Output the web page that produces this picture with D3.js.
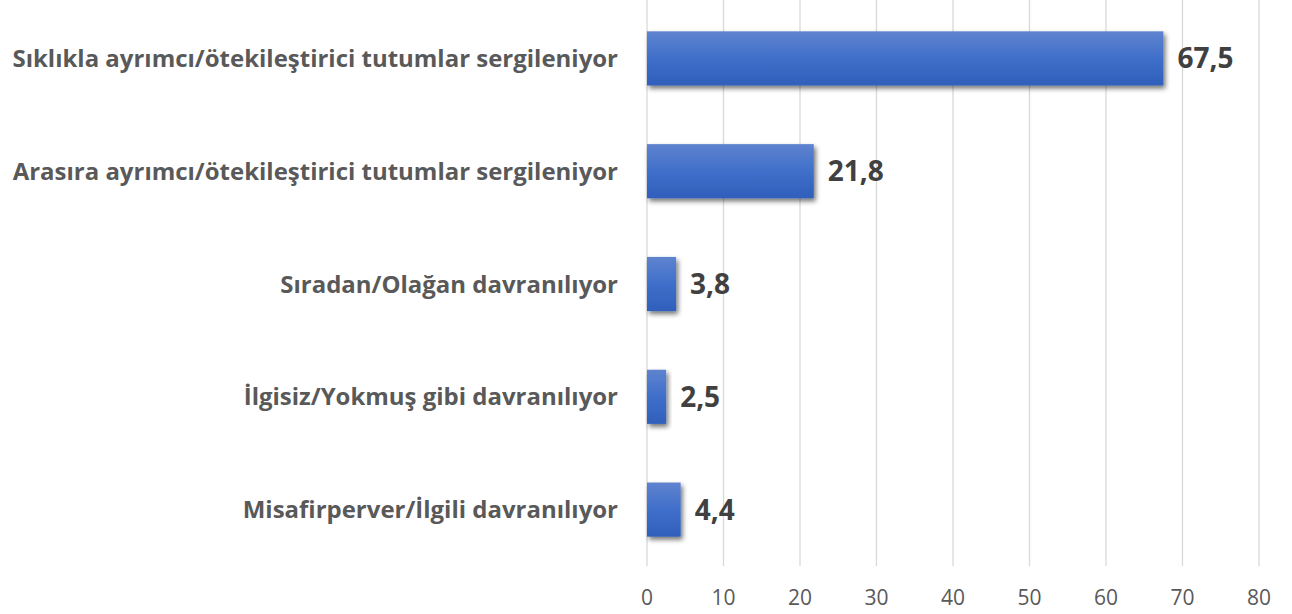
<!DOCTYPE html>
<html>
<head>
<meta charset="utf-8">
<script src="https://cdn.jsdelivr.net/npm/d3@7"></script>
<style>
  body { margin: 0; background: #fff; }
  svg { display: block; }
</style>
</head>
<body>
<div class="chart"></div>
<script>
// Data
var categories = [
  "Sıklıkla ayrımcı/ötekileştirici tutumlar sergileniyor",
  "Arasıra ayrımcı/ötekileştirici tutumlar sergileniyor",
  "Sıradan/Olağan davranılıyor",
  "İlgisiz/Yokmuş gibi davranılıyor",
  "Misafirperver/İlgili davranılıyor"
];
var values = [67.5, 21.8, 3.8, 2.5, 4.4];
var valueLabels = ["67,5", "21,8", "3,8", "2,5", "4,4"];
var ticks = [0, 10, 20, 30, 40, 50, 60, 70, 80];

// Configuration
var width = 1292;
var height = 614;
var margin = {top: 2, right: 33, bottom: 48, left: 647};
var font = "'Open Sans', Lato, sans-serif";

var svg = d3.select(".chart").append("svg")
    .attr("width", width)
    .attr("height", height);

var defs = svg.append("defs");

// bar gradient
var grad = defs.append("linearGradient")
    .attr("id", "barGrad")
    .attr("x1", 0).attr("y1", 0).attr("x2", 0).attr("y2", 1);
grad.append("stop").attr("offset", "0%").attr("stop-color", "#5f83cf");
grad.append("stop").attr("offset", "50%").attr("stop-color", "#3f6fca");
grad.append("stop").attr("offset", "100%").attr("stop-color", "#2f5fbb");

// shadow
var shadow = defs.append("filter")
    .attr("id", "shadow")
    .attr("x", "-20%").attr("y", "-20%")
    .attr("width", "150%").attr("height", "160%");
shadow.append("feGaussianBlur")
    .attr("in", "SourceAlpha")
    .attr("stdDeviation", 2.5)
    .attr("result", "blur");
shadow.append("feOffset")
    .attr("dx", 2).attr("dy", 3)
    .attr("result", "off");
shadow.append("feComponentTransfer")
    .append("feFuncA").attr("type", "linear").attr("slope", 0.55);
var merge = shadow.append("feMerge");
merge.append("feMergeNode");
merge.append("feMergeNode").attr("in", "SourceGraphic");

var x = d3.scaleLinear()
    .domain([0, 80])
    .range([margin.left, width - margin.right]);

var y = d3.scaleBand()
    .domain(categories)
    .range([margin.top, height - margin.bottom])
    .paddingInner(0.52)
    .paddingOuter(0.26);

// gridlines
svg.append("g")
    .selectAll("line")
    .data(ticks)
    .enter().append("line")
    .attr("x1", d => x(d))
    .attr("x2", d => x(d))
    .attr("y1", 0)
    .attr("y2", height - margin.bottom)
    .attr("stroke", "#d9d9d9")
    .attr("stroke-width", 1.3);

// tick labels
svg.append("g")
    .selectAll("text")
    .data(ticks)
    .enter().append("text")
    .attr("x", d => x(d))
    .attr("y", 605)
    .attr("text-anchor", "middle")
    .style("font-family", font)
    .style("font-size", "21px")
    .style("fill", "#595959")
    .text(d => d);

// bars
svg.append("g")
    .selectAll("rect")
    .data(values)
    .enter().append("rect")
    .attr("x", x(0))
    .attr("y", (d, i) => y(categories[i]))
    .attr("width", d => x(d) - x(0))
    .attr("height", y.bandwidth())
    .attr("fill", "url(#barGrad)")
    .style("filter", "url(#shadow)");

// value labels
svg.append("g")
    .selectAll("text")
    .data(values)
    .enter().append("text")
    .attr("x", d => x(d) + 14)
    .attr("y", (d, i) => y(categories[i]) + y.bandwidth() / 2)
    .attr("dy", "0.36em")
    .style("font-family", font)
    .style("font-weight", "bold")
    .style("font-size", "28px")
    .style("fill", "#404040")
    .text((d, i) => valueLabels[i]);

// category labels
var catLabels = svg.append("g")
    .selectAll("text")
    .data(categories)
    .enter().append("text")
    .attr("x", 618)
    .attr("y", d => y(d) + y.bandwidth() / 2)
    .attr("dy", "0.36em")
    .attr("text-anchor", "end")
    .style("font-family", font)
    .style("font-weight", "bold")
    .style("font-size", "21px")
    .style("fill", "#595959")
    .text(d => d);

// fit longest label to about 606px like the original
var w0 = catLabels.node().getComputedTextLength();
var fs = 21 * 606 / w0;
catLabels.style("font-size", fs + "px");
</script>
</body>
</html>
